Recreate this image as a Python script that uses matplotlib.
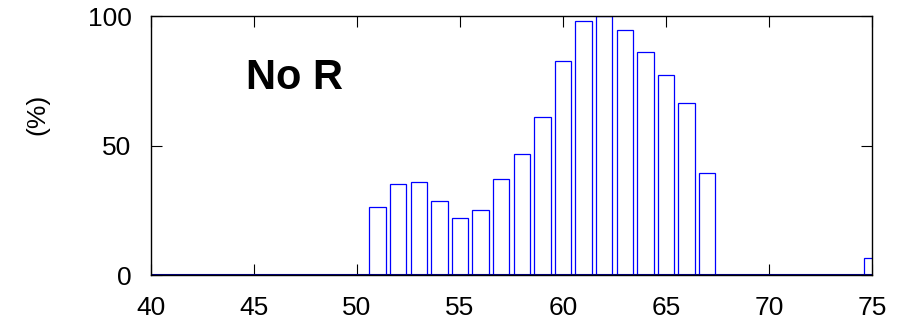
import numpy as np
import matplotlib
matplotlib.use("Agg")
import matplotlib.pyplot as plt

plt.rcParams['font.family'] = ['Liberation Sans', 'DejaVu Sans']

# bins (integer positions) and percentage values
bins = list(range(40, 76))
values = [0]*11 + [26.3, 35.0, 35.9, 28.4, 21.9, 25.1, 37.1, 46.8, 61.0,
                   82.7, 98.1, 100.0, 94.7, 86.0, 77.2, 66.3, 39.3] + [0]*7 + [6.7]
xticks = [40, 45, 50, 55, 60, 65, 70, 75]
yticks = [0, 50, 100]
label = "No R"

fig = plt.figure(figsize=(9.13, 3.27), dpi=100)
ax = fig.add_axes([0.1654, 0.159, 0.7897, 0.792])

ax.bar(bins, values, width=0.8, color='white', edgecolor='#0000ff', linewidth=0.9, zorder=2)
ax.axhline(0, color='#00008b', linewidth=1.5, zorder=3)

ax.set_xlim(40, 75)
ax.set_ylim(0, 100)
ax.set_xticks(xticks)
ax.set_yticks(yticks)
ax.tick_params(direction='in', length=8, width=0.8, top=True, right=True,
               labelsize=19, pad=15)
ax.tick_params(axis='y', pad=14)
for s in ax.spines.values():
    s.set_linewidth(1.0)
    s.set_zorder(4)

ax.set_ylabel("(%)", fontsize=19)
ax.yaxis.set_label_coords(-0.141, 0.62)
ax.text(0.132, 0.76, label, transform=ax.transAxes, fontsize=30,
        fontweight='bold', va='center', ha='left')

fig.savefig("out.png", dpi=100)
